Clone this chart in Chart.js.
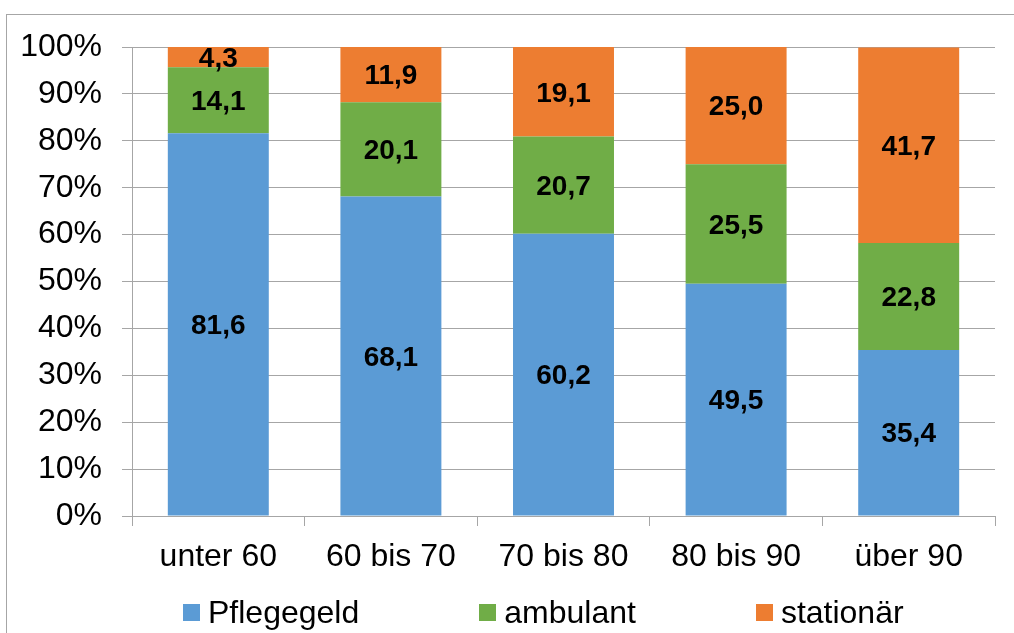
<!DOCTYPE html>
<html>
<head>
<meta charset="utf-8">
<script src="https://cdn.jsdelivr.net/npm/chart.js@4/dist/chart.umd.min.js"></script>
<style>
  html, body { margin: 0; padding: 0; background: #fff; overflow: hidden; }
  #wrap { position: relative; width: 1014px; height: 633px; overflow: hidden; }
  #frame { position: absolute; left: 6px; top: 14px; width: 1100px; height: 700px; border: 1px solid #a6a6a6; }
  #chart { position: absolute; left: 0; top: 0; }
  #legend { position: absolute; left: 183px; top: 594px; display: flex; gap: 120px;
            font-family: "Liberation Sans", Arial, sans-serif; font-size: 32px; color: #000; }
  #legend .item { display: flex; align-items: center; }
  #legend .box { width: 17px; height: 17px; margin-right: 8px; }
</style>
</head>
<body>
<div id="wrap">
  <div id="frame"></div>
  <canvas id="chart" width="1014" height="633"></canvas>
  <div id="legend"></div>
</div>
<script>
const categories = ['unter 60', '60 bis 70', '70 bis 80', '80 bis 90', 'über 90'];
const pflegegeld = [81.6, 68.1, 60.2, 49.5, 35.4];
const ambulant = [14.1, 20.1, 20.7, 25.5, 22.8];
const stationaer = [4.3, 11.9, 19.1, 25.0, 41.7];
const seriesNames = ['Pflegegeld', 'ambulant', 'stationär'];
const seriesColors = ['#5B9BD5', '#70AD47', '#ED7D31'];

const fontFamily = '"Liberation Sans", Arial, sans-serif';
const gridColor = '#a6a6a6';

// draws the values in the middle of each segment
const segmentLabels = {
    id: 'segmentLabels',
    afterDatasetsDraw(chart) {
        const ctx = chart.ctx;
        ctx.save();
        ctx.font = 'bold 28px ' + fontFamily;
        ctx.fillStyle = '#000';
        ctx.textAlign = 'center';
        ctx.textBaseline = 'middle';
        chart.data.datasets.forEach((ds, i) => {
            const meta = chart.getDatasetMeta(i);
            meta.data.forEach((bar, j) => {
                const y = (bar.y + bar.base) / 2;
                ctx.fillText(ds.data[j].toFixed(1).replace('.', ','), bar.x, y + 2);
            });
        });
        ctx.restore();
    }
};

const ctx = document.getElementById('chart').getContext('2d');
const chart = new Chart(ctx, {
    type: 'bar',
    data: {
        labels: categories,
        datasets: [
            { label: seriesNames[0], data: pflegegeld, backgroundColor: seriesColors[0] },
            { label: seriesNames[1], data: ambulant, backgroundColor: seriesColors[1] },
            { label: seriesNames[2], data: stationaer, backgroundColor: seriesColors[2] }
        ]
    },
    options: {
        responsive: false,
        animation: false,
        layout: { padding: { top: 47, right: 19, left: 0, bottom: 0 } },
        datasets: { bar: { categoryPercentage: 1, barPercentage: 0.585 } },
        plugins: {
            legend: { display: false },
            tooltip: { enabled: false }
        },
        scales: {
            x: {
                stacked: true,
                grid: { offset: true, drawOnChartArea: false, color: gridColor, tickLength: 10 },
                border: { color: gridColor },
                ticks: { color: '#000', padding: 12, font: { family: fontFamily, size: 32 } },
                afterFit(scale) { scale.height = 633 - 516; }
            },
            y: {
                stacked: true,
                min: 0,
                max: 100,
                grid: { color: gridColor, tickLength: 10 },
                border: { color: gridColor },
                ticks: {
                    stepSize: 10,
                    color: '#000',
                    padding: 20,
                    font: { family: fontFamily, size: 32 },
                    callback: v => v + '%'
                },
                afterFit(scale) { scale.width = 132; }
            }
        }
    },
    plugins: [segmentLabels]
});

const legend = document.getElementById('legend');
seriesNames.forEach((name, i) => {
    const item = document.createElement('div');
    item.className = 'item';
    item.innerHTML = `<span class="box" style="background:${seriesColors[i]}"></span><span>${name}</span>`;
    legend.appendChild(item);
});
</script>
</body>
</html>
